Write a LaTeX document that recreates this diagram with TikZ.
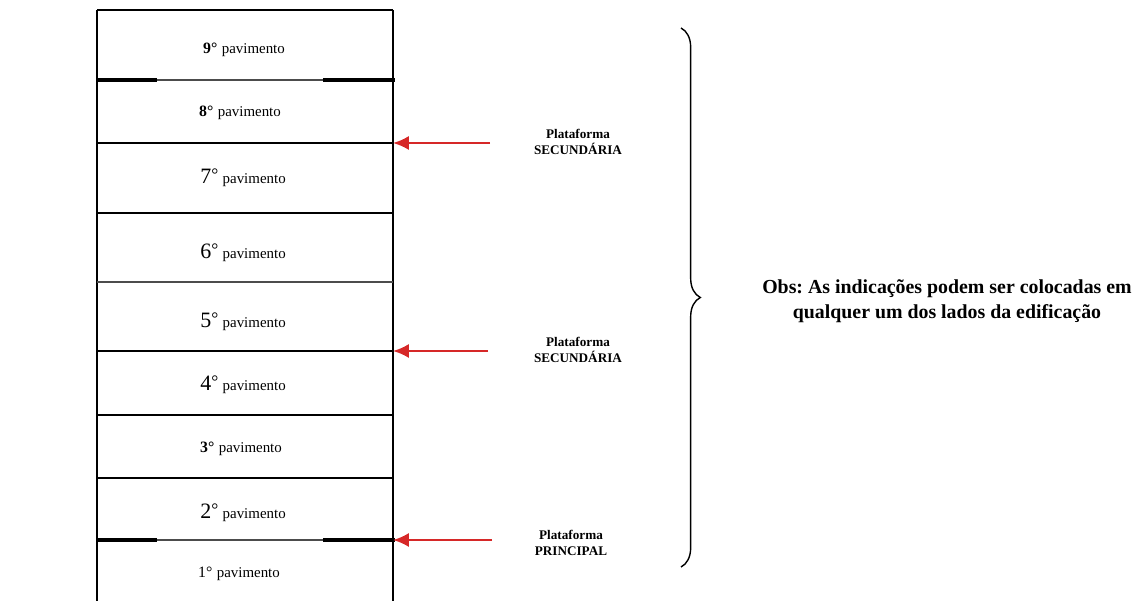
\documentclass[tikz,border=0pt]{standalone}
\usepackage{fontspec}
\setmainfont{Liberation Serif}
\usetikzlibrary{arrows.meta, positioning, decorations.pathreplacing}
\definecolor{arrowred}{RGB}{214,40,40}

\begin{document}
\begin{tikzpicture}[x=0.02cm, y=-0.02cm,
    floor/.style={inner sep=0pt},
    slab/.style={line width=1.5pt},
    edgeslab/.style={line width=2.1pt},
    thinslab/.style={line width=0.6pt, black!70},
    wall/.style={line width=0.7pt},
    plat/.style={font=\bfseries\fontsize{7.5}{9}\selectfont, align=center, inner sep=0pt},
    redarrow/.style={-{Latex[length=9pt,width=8pt]}, line width=1.3pt, arrowred}]
    \useasboundingbox (0,0) rectangle (1144,601);
    \newcommand{\pav}{\fontsize{8.5}{10}\selectfont pavimento}
    \newcommand{\nb}[1]{{\fontsize{9}{10}\selectfont\bfseries #1°}}
    \newcommand{\nl}[1]{{\fontsize{12.5}{14}\selectfont #1}\raisebox{1.6pt}{\fontsize{10}{10}\selectfont°}}

    % walls
    \draw[wall] (97,10) -- (97,601);
    \draw[wall] (393,10) -- (393,601);

    % slabs
    \draw[line width=1.4pt] (97,10) -- (393,10);
    \draw[thinslab] (97,80) -- (393,80);
    \draw[edgeslab] (97,80) -- (157,80) (323,80) -- (395,80);
    \draw[slab] (97,143) -- (393,143);
    \draw[slab] (97,213) -- (393,213);
    \draw[thinslab] (97,282) -- (393,282);
    \draw[slab] (97,351) -- (393,351);
    \draw[slab] (97,415) -- (393,415);
    \draw[slab] (97,478) -- (393,478);
    \draw[thinslab] (97,540) -- (393,540);
    \draw[edgeslab] (97,540) -- (157,540) (323,540) -- (395,540);

    % floors
    \node[floor] (f9) at (244,50) {\nb{9} \pav};
    \node[floor] (f8) at (240,113) {\nb{8} \pav};
    \node[floor] (f7) at (243,178) {\nl{7} \pav};
    \node[floor] (f6) at (243,253) {\nl{6} \pav};
    \node[floor] (f5) at (243,322) {\nl{5} \pav};
    \node[floor] (f4) at (243,385) {\nl{4} \pav};
    \node[floor] (f3) at (241,449) {\nb{3} \pav};
    \node[floor] (f2) at (243,513) {\nl{2} \pav};
    \node[floor] (f1) at (239,574) {{\fontsize{9}{10}\selectfont 1°} \pav};

    % platforms
    \coordinate (w1) at (393,143);
    \coordinate (w2) at (393,351);
    \coordinate (w3) at (393,540);
    \node[plat] (p1) at (578,142) {Plataforma\\SECUNDÁRIA};
    \node[plat] (p2) at (578,350) {Plataforma\\SECUNDÁRIA};
    \node[plat] (p3) at (571,543) {Plataforma\\PRINCIPAL};
    \coordinate (t1) at (490,143);
    \coordinate (t2) at (488,351);
    \coordinate (t3) at (492,540);
    \draw[redarrow] (t1) -- (w1);
    \draw[redarrow] (t2) -- (w2);
    \draw[redarrow] (t3) -- (w3);

    % brace
    \coordinate (b1) at (681,28);
    \coordinate (b2) at (681,567);
    \draw[line width=0.8pt, decorate, decoration={brace, amplitude=11pt}] (b1) -- (b2);
    \node[font=\bfseries\fontsize{11.3}{14}\selectfont, align=center] (obs) at (947,301)
        {\frenchspacing Obs: As indicações podem ser colocadas em\\qualquer um dos lados da edificação};
\end{tikzpicture}
\end{document}
